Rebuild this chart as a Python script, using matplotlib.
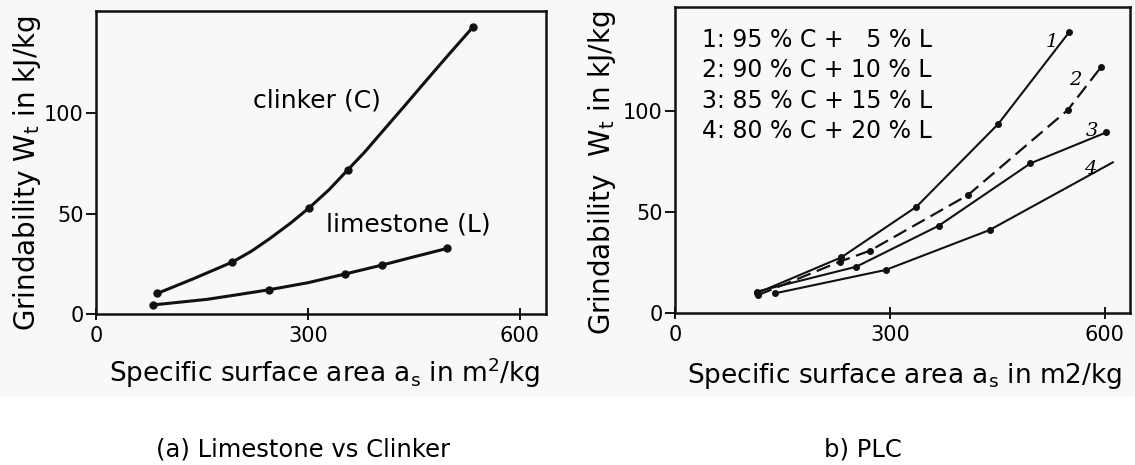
"""
Grindability vs. specific surface area:
(a) pure limestone and clinker, (b) Portland limestone cement blends.
"""

import matplotlib
matplotlib.use('Agg')
import matplotlib.pyplot as plt
from matplotlib.patches import Rectangle

plt.rcParams['font.family'] = ['DejaVu Sans']
plt.rcParams['mathtext.fontset'] = 'dejavusans'

# ============================================================
# Data
# ============================================================
x_ticks = [0, 300, 600]
y_ticks = [0, 50, 100]

# (a) measured points
clinker_x = [87, 193, 302, 356, 533]
clinker_y = [10.3, 25.9, 53.0, 71.7, 142.8]
limestone_x = [80, 245, 352, 405, 497]
limestone_y = [4.5, 12.1, 19.9, 24.4, 32.7]

# (a) hand-drawn curves through the points (extra points)
clinker_curve_x = [87, 138, 193, 220, 246, 275, 302, 330, 356, 380, 402, 435, 468, 495, 515, 533]
clinker_curve_y = [10.3, 17.6, 25.9, 31.3, 37.6, 45.2, 53.0, 62.0, 71.7, 80.6, 89.6, 103.0, 116.6, 127.6, 135.6, 142.8]
limestone_curve_x = [80, 157, 200, 245, 300, 352, 405, 450, 497]
limestone_curve_y = [4.5, 7.3, 9.6, 12.1, 15.6, 19.9, 24.4, 28.5, 32.7]

# (b) blends
plc_x1 = [114, 232, 337, 451, 550]
plc_y1 = [9.9, 27.6, 52.6, 93.4, 138.7]
plc_x2 = [116, 230, 272, 409, 548, 595]
plc_y2 = [9.0, 25.5, 30.9, 58.4, 100.3, 121.7]
plc_x3 = [114, 253, 368, 496, 602]
plc_y3 = [10.7, 23.0, 43.2, 74.0, 89.3]
plc_x4 = [140, 294, 439, 611]
plc_y4 = [9.9, 21.4, 41.1, 74.5]

plc_labels = ['1: 95 % C +   5 % L',
              '2: 90 % C + 10 % L',
              '3: 85 % C + 15 % L',
              '4: 80 % C + 20 % L']
curve_ids = ['1', '2', '3', '4']
curve_id_pos = [(526, 134), (559, 115), (582, 90), (579, 71)]

# ============================================================
# Figure
# ============================================================
fig = plt.figure(figsize=(11.35, 4.65), dpi=100)
# faint grey of the scanned area
fig.patches.append(Rectangle((0, 0.148), 1, 0.852, transform=fig.transFigure,
                             color='#f8f8f8', zorder=-10))

ax1 = fig.add_axes([0.0846, 0.3247, 0.3965, 0.6516])
ax2 = fig.add_axes([0.5947, 0.3262, 0.4009, 0.658])


def style(ax, xmax):
    ax.set_xlim(0, xmax)
    ax.set_ylim(0, 151)
    ax.set_xticks(x_ticks)
    ax.set_yticks(y_ticks)
    ax.set_facecolor('none')
    ax.tick_params(axis='x', direction='inout', length=9, width=1.3, pad=4,
                   labelsize=15)
    ax.tick_params(axis='y', direction='out', length=7, width=1.3, pad=2,
                   labelsize=15)
    for s in ax.spines.values():
        s.set_linewidth(1.8)
        s.set_color('#111111')


style(ax1, 637)
style(ax2, 635)

# --- (a) ---
ax1.plot(clinker_curve_x, clinker_curve_y, color='#111111', lw=2.2,
         solid_joinstyle='round')
ax1.plot(clinker_x, clinker_y, 'o', color='#111111', ms=5)
ax1.plot(limestone_curve_x, limestone_curve_y, color='#111111', lw=2.2,
         solid_joinstyle='round')
ax1.plot(limestone_x, limestone_y, 'o', color='#111111', ms=5)
ax1.text(313, 106.6, 'clinker (C)', ha='center', va='center', fontsize=18)
ax1.text(442, 44.8, 'limestone (L)', ha='center', va='center', fontsize=18)

# --- (b) ---
ax2.plot(plc_x1, plc_y1, '-o', color='#111111', lw=1.5, ms=4)
ax2.plot(plc_x2, plc_y2, '--o', color='#111111', lw=1.6, ms=4, dashes=(6.5, 3))
ax2.plot(plc_x3, plc_y3, '-o', color='#111111', lw=1.5, ms=4)
ax2.plot(plc_x4, plc_y4, '-o', color='#111111', lw=1.5, ms=4, markevery=[0, 1, 2])

for i, lab in enumerate(plc_labels):
    ax2.text(0.0587, 0.871 - i * 0.0995, lab, transform=ax2.transAxes,
             ha='left', va='baseline', fontsize=17)

for cid, (cx, cy) in zip(curve_ids, curve_id_pos):
    ax2.text(cx, cy, cid, ha='center', va='center', fontsize=14,
             family='DejaVu Serif', style='italic')

# axis labels (scan layout)
fig.text(0.2859, 0.1791, r'Specific surface area a$_\mathregular{s}$ in m$^\mathregular{2}$/kg',
         ha='center', va='baseline', fontsize=19)
fig.text(0.7974, 0.1763, r'Specific surface area a$_\mathregular{s}$ in m2/kg',
         ha='center', va='baseline', fontsize=19)
fig.text(0.0238, 0.628, r'Grindability W$_\mathregular{t}$ in kJ/kg',
         ha='center', va='center', rotation=90, fontsize=20)
fig.text(0.530, 0.628, r'Grindability  W$_\mathregular{t}$ in kJ/kg',
         ha='center', va='center', rotation=90, fontsize=20)

# captions
fig.text(0.267, 0.0344, '(a) Limestone vs Clinker', ha='center', va='center',
         fontsize=17.5)
fig.text(0.760, 0.0344, 'b) PLC', ha='center', va='center', fontsize=17.5)

fig.savefig('out.png', dpi=100)
